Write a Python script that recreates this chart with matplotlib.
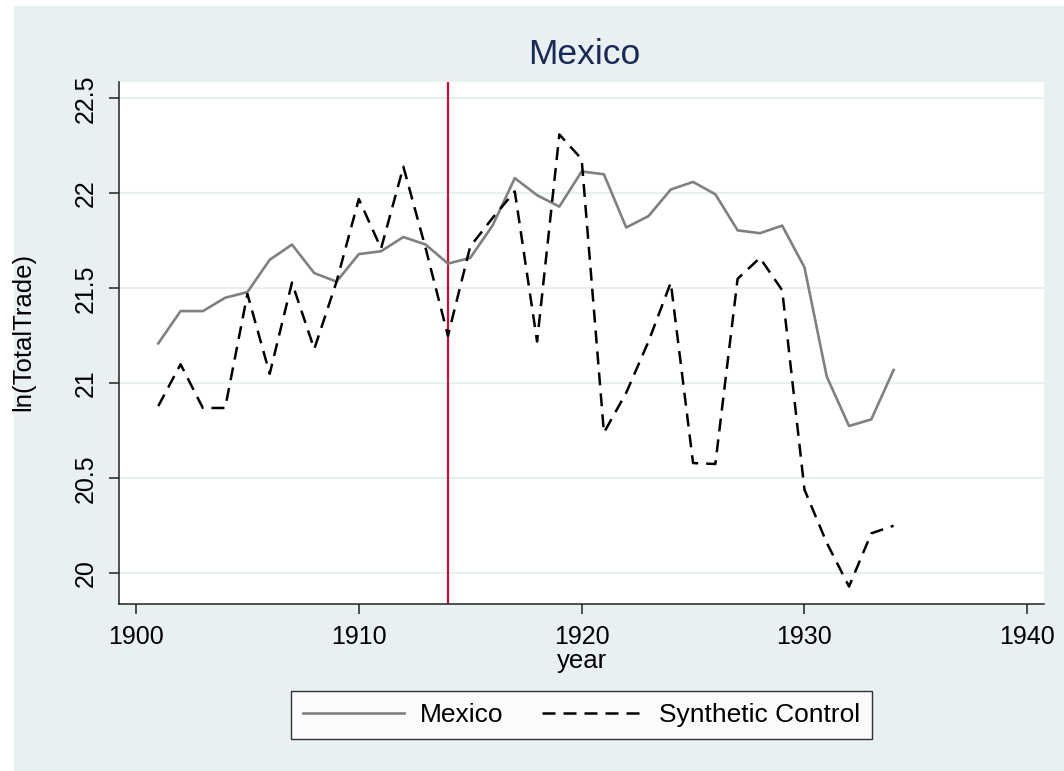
import numpy as np
import matplotlib
matplotlib.use('Agg')
import matplotlib.pyplot as plt

plt.rcParams['font.family'] = ['Liberation Sans', 'DejaVu Sans']

# data
years = list(range(1901, 1935))
mexico = [21.21, 21.38, 21.38, 21.45, 21.48, 21.65, 21.73, 21.58, 21.535, 21.68,
          21.695, 21.77, 21.73, 21.63, 21.66, 21.83, 22.08, 21.99, 21.93, 22.115,
          22.10, 21.82, 21.88, 22.02, 22.06, 21.995, 21.805, 21.79, 21.83, 21.61,
          21.035, 20.775, 20.81, 21.07]
synth = [20.88, 21.10, 20.87, 20.87, 21.47, 21.05, 21.53, 21.18, 21.535, 21.97,
         21.71, 22.14, 21.71, 21.25, 21.72, 21.87, 22.01, 21.22, 22.31, 22.18,
         20.74, 20.95, 21.22, 21.53, 20.58, 20.575, 21.55, 21.66, 21.49, 20.44,
         20.16, 19.93, 20.21, 20.25]
treat_year = 1914
xticks = [1900, 1910, 1920, 1930, 1940]
yticks = [20, 20.5, 21, 21.5, 22, 22.5]
ytick_labels = ['20', '20.5', '21', '21.5', '22', '22.5']

bg = '#e8f0f2'
W, H = 1064, 771

fig = plt.figure(figsize=(W / 100, H / 100), dpi=100)
fig.patch.set_facecolor('white')
# light outer frame (white strip on top and left)
fig.add_artist(plt.Rectangle((14 / W, 0), 1 - 14 / W, 1 - 6 / H,
                             transform=fig.transFigure, color=bg, zorder=-10))

ax = fig.add_axes([119 / W, 167 / H, 925 / W, 522 / H])
ax.set_facecolor('white')

ax.axvline(treat_year, color='#c8102e', lw=1.6, zorder=1)
ax.plot(years, mexico, color='#808080', lw=1.9, label='Mexico', zorder=3)
ax.plot(years, synth, color='black', lw=1.8, dashes=(5.2, 3.2),
        label='Synthetic Control', zorder=3)

ax.set_xlim(1899.237, 1940.75)
ax.set_ylim(19.838, 22.586)
ax.set_xticks(xticks)
ax.set_yticks(yticks)
ax.set_yticklabels(ytick_labels, rotation=90, va='center')
ax.grid(axis='y', color='#e6eff1', lw=1.6, zorder=0)
ax.grid(axis='x', visible=False)
ax.set_axisbelow(True)

for s in ['top', 'right']:
    ax.spines[s].set_visible(False)
for s in ['left', 'bottom']:
    ax.spines[s].set_color('#222222')
    ax.spines[s].set_linewidth(1.1)
ax.tick_params(axis='both', labelsize=18, length=7, width=1.1,
               color='#222222', pad=8)

fig.text(584 / W, 1 - 55 / H, 'Mexico', fontsize=25.5, color='#1a2a57',
         ha='center', va='center')
fig.text(582 / W, 1 - 661 / H, 'year', fontsize=18.5, ha='center', va='center')
fig.text(23 / W, 1 - 332 / H, 'ln(TotalTrade)', fontsize=18.5, rotation=90,
         ha='center', va='center')

leg = fig.legend(loc='center', bbox_to_anchor=(581.5 / W, 56 / H), ncol=2,
                 fontsize=19, frameon=True, fancybox=False, handlelength=3.8,
                 handletextpad=0.6, columnspacing=1.5, borderpad=0.45)
leg.get_frame().set_edgecolor('black')
leg.get_frame().set_linewidth(1.0)

fig.savefig('out.png', dpi=100)
